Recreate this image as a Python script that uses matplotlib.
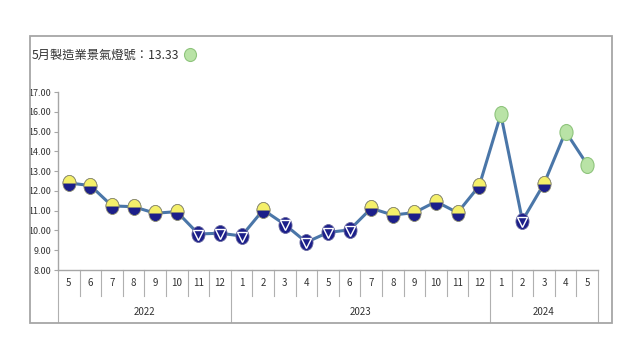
import numpy as np
import matplotlib
matplotlib.use("Agg")
import matplotlib.pyplot as plt
from matplotlib.path import Path
from matplotlib.patches import Rectangle, Ellipse

plt.rcParams['font.family'] = ['Noto Sans CJK TC', 'DejaVu Sans']

months = ["5", "6", "7", "8", "9", "10", "11", "12",
          "1", "2", "3", "4", "5", "6", "7", "8", "9", "10", "11", "12",
          "1", "2", "3", "4", "5"]
years = ["2022", "2023", "2024"]
year_counts = [8, 12, 5]
values = [12.40, 12.27, 11.24, 11.20, 10.87, 10.95, 9.82, 9.86, 9.72, 11.04,
          10.30, 9.40, 9.90, 10.03, 11.12, 10.78, 10.90, 11.46, 10.90, 12.25,
          15.87, 10.50, 12.36, 15.00, 13.33]
# YB = yellow-blue, B = blue, G = green
signals = ["YB", "YB", "YB", "YB", "YB", "YB", "B", "B", "B", "YB",
           "B", "B", "B", "B", "YB", "YB", "YB", "YB", "YB", "YB",
           "G", "B", "YB", "G", "G"]
yticks = [8, 9, 10, 11, 12, 13, 14, 15, 16, 17]
title = "5月製造業景氣燈號：13.33"

NAVY = "#1c1f8a"
YELLOW = "#f4ef6a"
GREEN = "#b9e3a6"
GREEN_EDGE = "#8ec47c"
LINE = "#4a76a8"
NARROW = ["Liberation Sans Narrow", "Noto Sans CJK TC", "DejaVu Sans"]

# oval marker paths
ax_r = 0.82
circ = Path.unit_circle()
oval = Path(circ.vertices * np.array([ax_r, 1.0]), circ.codes)
t = np.linspace(0, np.pi, 40)
top_half = Path(np.column_stack([ax_r * np.cos(t), np.sin(t)]).tolist() + [[ax_r, 0.0]],
                [Path.MOVETO] + [Path.LINETO] * 39 + [Path.CLOSEPOLY])

fig = plt.figure(figsize=(6.4, 3.6), dpi=100)
fig.patches.append(Rectangle((30 / 640, 1 - 323 / 360), 582 / 640, 287 / 360,
                             transform=fig.transFigure, fill=False,
                             edgecolor="#a6a6a6", linewidth=1.3))
ax = fig.add_axes([58 / 640, 1 - 270 / 360, 540 / 640, 178 / 360])

x = np.arange(len(values))
v = np.array(values)
ax.plot(x, v, color=LINE, linewidth=2.2, zorder=2)

ms = 11.5
sig = np.array(signals)
for kind in ["YB", "B", "G"]:
    m = sig == kind
    if kind == "YB":
        ax.plot(x[m], v[m], linestyle="none", marker=oval, markersize=ms,
                markerfacecolor=NAVY, markeredgecolor="#8a8a70", markeredgewidth=0.6, zorder=3)
        ax.plot(x[m], v[m], linestyle="none", marker=top_half, markersize=ms,
                markerfacecolor=YELLOW, markeredgecolor="#8a8a70", markeredgewidth=0.6, zorder=4)
    elif kind == "B":
        ax.plot(x[m], v[m], linestyle="none", marker=oval, markersize=ms,
                markerfacecolor=NAVY, markeredgecolor="#6a6aa0", markeredgewidth=0.6, zorder=3)
        ax.plot(x[m], v[m] - 0.05, linestyle="none", marker="v", markersize=7,
                markerfacecolor=NAVY, markeredgecolor="white", markeredgewidth=1.0, zorder=4)
    else:
        ax.plot(x[m], v[m], linestyle="none", marker=oval, markersize=ms,
                markerfacecolor=GREEN, markeredgecolor=GREEN_EDGE, markeredgewidth=0.8, zorder=3)

ax.set_xlim(-0.5, len(values) - 0.5)
ax.set_ylim(8, 17)
ax.set_yticks(yticks)
ax.set_yticklabels([f"{t:.2f}" for t in yticks], fontsize=6.5, family=NARROW)
ax.tick_params(axis="y", length=3, color="#a6a6a6", pad=2, labelcolor="#333333")
ax.set_xticks([])
for s in ["top", "right"]:
    ax.spines[s].set_visible(False)
for s in ["left", "bottom"]:
    ax.spines[s].set_color("#a6a6a6")
    ax.spines[s].set_linewidth(1.0)

trans = ax.get_xaxis_transform()
sep_col = "#b0b0b0"
for i, lab in enumerate(months):
    ax.text(i, -0.073, lab, transform=trans, ha="center", va="center",
            fontsize=7, color="#333333", family=NARROW)
year_bounds = np.cumsum([0] + year_counts) - 0.5
for b in np.arange(len(values) + 1) - 0.5:
    if b in year_bounds:
        ax.plot([b, b], [0, -0.29], transform=trans, color=sep_col, lw=0.8, clip_on=False)
    else:
        ax.plot([b, b], [0, -0.146], transform=trans, color=sep_col, lw=0.8, clip_on=False)
for j, yl in enumerate(years):
    cx = (year_bounds[j] + year_bounds[j + 1]) / 2
    ax.text(cx, -0.236, yl, transform=trans, ha="center", va="center",
            fontsize=7, color="#333333", family=NARROW)

tt = fig.text(32 / 640, 1 - 55 / 360, title, fontsize=8.8, color="#333333",
              ha="left", va="center", family=NARROW)
fig.canvas.draw()
bb = tt.get_window_extent()
cx_px = bb.x1 + 11
fig.patches.append(Ellipse((cx_px / 640, 1 - 55 / 360), 12 / 640, 13 / 360,
                           transform=fig.transFigure, facecolor=GREEN,
                           edgecolor=GREEN_EDGE, linewidth=0.8))

fig.savefig("out.png", dpi=100)
